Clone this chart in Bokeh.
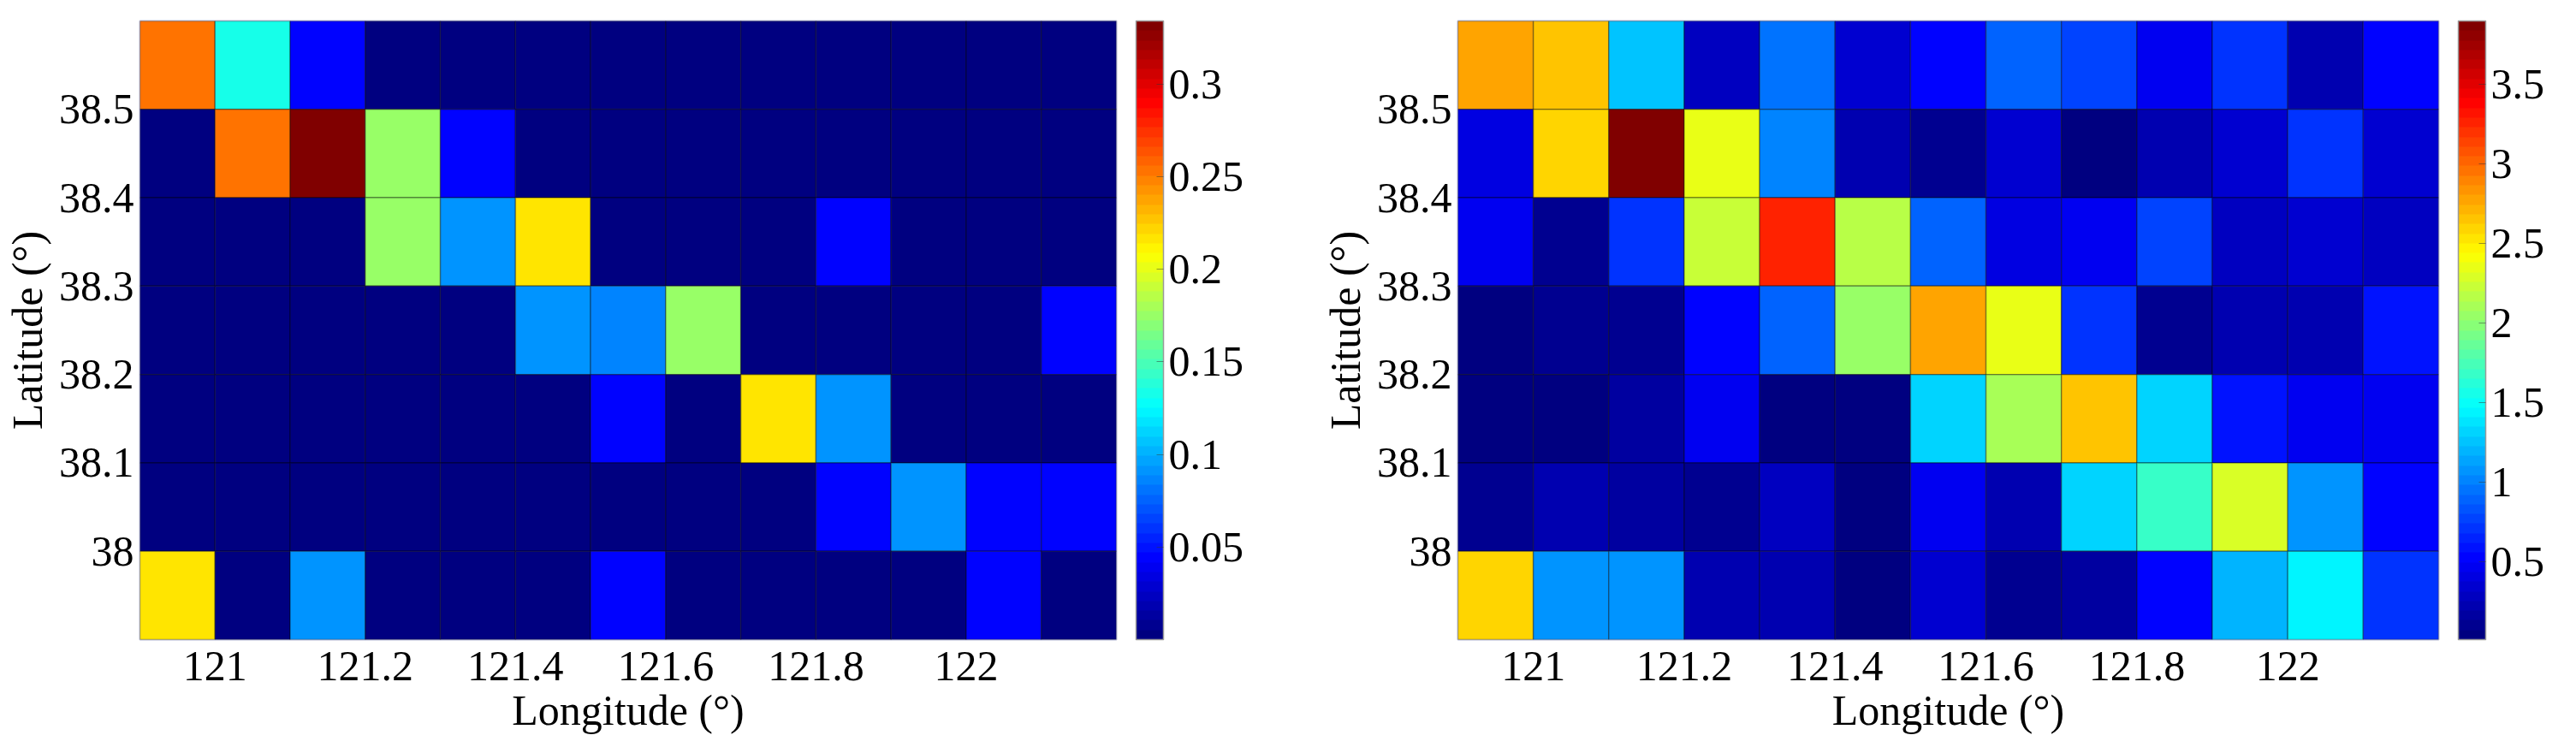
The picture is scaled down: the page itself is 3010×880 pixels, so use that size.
from bokeh.plotting import figure
from bokeh.models import (LinearColorMapper, ColorBar, FixedTicker, Range1d,
                          ColumnDataSource)
from bokeh.layouts import row
from bokeh.embed import file_html
from bokeh.resources import INLINE

# ---------------- data ----------------
lon_centers = [120.95, 121.05, 121.15, 121.25, 121.35, 121.45, 121.55,
               121.65, 121.75, 121.85, 121.95, 122.05, 122.15]
lat_centers = [38.55, 38.45, 38.35, 38.25, 38.15, 38.05, 37.95]  # top -> bottom

x_ticks = [121.0, 121.2, 121.4, 121.6, 121.8, 122.0]
x_tick_labels = ["121", "121.2", "121.4", "121.6", "121.8", "122"]
y_ticks = [38.0, 38.1, 38.2, 38.3, 38.4, 38.5]
y_tick_labels = ["38", "38.1", "38.2", "38.3", "38.4", "38.5"]

left_cb_ticks = [0.05, 0.1, 0.15, 0.2, 0.25, 0.3]
left_cb_labels = ["0.05", "0.1", "0.15", "0.2", "0.25", "0.3"]
right_cb_ticks = [0.5, 1.0, 1.5, 2.0, 2.5, 3.0, 3.5]
right_cb_labels = ["0.5", "1", "1.5", "2", "2.5", "3", "3.5"]

left_low, left_high = 0.0, 0.334
right_low, right_high = 0.01, 3.9

# rows from top (38.55) to bottom (37.95), columns west -> east
left_grid = [
    [0.252, 0.134, 0.045, 0.004, 0.004, 0.004, 0.004, 0.004, 0.004, 0.004, 0.004, 0.004, 0.004],
    [0.004, 0.252, 0.334, 0.175, 0.045, 0.004, 0.004, 0.004, 0.004, 0.004, 0.004, 0.004, 0.004],
    [0.004, 0.004, 0.004, 0.175, 0.091, 0.214, 0.004, 0.004, 0.004, 0.045, 0.004, 0.004, 0.004],
    [0.004, 0.004, 0.004, 0.004, 0.004, 0.091, 0.088, 0.175, 0.004, 0.004, 0.004, 0.004, 0.045],
    [0.004, 0.004, 0.004, 0.004, 0.004, 0.004, 0.045, 0.004, 0.214, 0.091, 0.004, 0.004, 0.004],
    [0.004, 0.004, 0.004, 0.004, 0.004, 0.004, 0.004, 0.004, 0.004, 0.045, 0.091, 0.045, 0.045],
    [0.214, 0.004, 0.091, 0.004, 0.004, 0.004, 0.045, 0.004, 0.004, 0.004, 0.004, 0.045, 0.004],
]

right_grid = [
    [2.76, 2.64, 1.23, 0.28, 0.95, 0.36, 0.50, 0.91, 0.76, 0.48, 0.70, 0.25, 0.50],
    [0.40, 2.60, 3.90, 2.38, 0.99, 0.20, 0.13, 0.36, 0.05, 0.25, 0.35, 0.69, 0.35],
    [0.44, 0.13, 0.69, 2.23, 3.26, 2.15, 0.88, 0.40, 0.44, 0.79, 0.28, 0.36, 0.28],
    [0.05, 0.10, 0.13, 0.52, 0.88, 2.05, 2.76, 2.38, 0.69, 0.13, 0.20, 0.24, 0.60],
    [0.03, 0.05, 0.16, 0.48, 0.03, 0.05, 1.33, 2.10, 2.64, 1.33, 0.60, 0.48, 0.44],
    [0.13, 0.20, 0.16, 0.13, 0.28, 0.03, 0.44, 0.20, 1.33, 1.70, 2.27, 1.06, 0.55],
    [2.57, 1.10, 1.10, 0.20, 0.20, 0.05, 0.36, 0.13, 0.16, 0.50, 1.18, 1.41, 0.72],
]

# ---------------- jet colormap (64 levels) ----------------
def _clip(v):
    return max(0.0, min(1.0, v))

JET = []
for i in range(64):
    t = i / 63.0
    r = _clip(1.5 - abs(4 * t - 3))
    g = _clip(1.5 - abs(4 * t - 2))
    b = _clip(1.5 - abs(4 * t - 1))
    JET.append("#%02x%02x%02x" % (int(round(r * 255)), int(round(g * 255)), int(round(b * 255))))

FONT = "Liberation Serif"
FS = "50px"


def make_panel(grid, low, high, cb_ticks, cb_labels, width,
               border_left, border_right, border_top):
    xs, ys, vs = [], [], []
    for r, lat in enumerate(lat_centers):
        for c, lon in enumerate(lon_centers):
            xs.append(lon)
            ys.append(lat)
            vs.append(grid[r][c])
    src = ColumnDataSource(dict(x=xs, y=ys, v=vs))
    mapper = LinearColorMapper(palette=JET, low=low, high=high)

    p = figure(width=width, height=860,
               x_range=Range1d(120.9, 122.2), y_range=Range1d(37.9, 38.6),
               output_backend="svg", toolbar_location=None,
               min_border_left=border_left, min_border_top=border_top,
               min_border_bottom=111, min_border_right=border_right)
    p.rect(x="x", y="y", width=0.1, height=0.1, source=src,
           fill_color={"field": "v", "transform": mapper},
           line_color="black", line_alpha=0.35, line_width=1.5)

    p.grid.visible = False
    p.outline_line_color = "#b8bcd8"
    p.outline_line_width = 2

    p.xaxis.ticker = FixedTicker(ticks=x_ticks)
    p.xaxis.major_label_overrides = dict(zip(x_ticks, x_tick_labels))
    p.yaxis.ticker = FixedTicker(ticks=y_ticks)
    p.yaxis.major_label_overrides = dict(zip(y_ticks, y_tick_labels))
    p.xaxis.axis_label = "Longitude (°)"
    p.yaxis.axis_label = "Latitude (°)"
    for ax in (p.xaxis[0], p.yaxis[0]):
        ax.axis_line_color = None
        ax.major_tick_line_color = None
        ax.minor_tick_line_color = None
        ax.major_tick_in = 0
        ax.major_tick_out = 0
        ax.minor_tick_in = 0
        ax.minor_tick_out = 0
        ax.major_label_text_font = FONT
        ax.major_label_text_font_size = FS
        ax.major_label_text_color = "black"
        ax.axis_label_text_font = FONT
        ax.axis_label_text_font_size = FS
        ax.axis_label_text_font_style = "normal"
        ax.axis_label_text_color = "black"
    p.xaxis.major_label_standoff = 14
    p.yaxis.major_label_standoff = 7
    p.xaxis.axis_label_standoff = 4
    p.yaxis.axis_label_standoff = 6

    cb = ColorBar(color_mapper=mapper, ticker=FixedTicker(ticks=cb_ticks),
                  major_label_overrides=dict(zip(cb_ticks, cb_labels)),
                  width=32, padding=0, margin=0, label_standoff=6,
                  major_label_text_font=FONT, major_label_text_font_size=FS,
                  major_label_text_color="black",
                  bar_line_color="#9a9a9a", bar_line_width=1.5,
                  major_tick_line_color="#333333", major_tick_line_alpha=0.5,
                  major_tick_in=8, major_tick_out=0,
                  minor_tick_line_color=None, border_line_color=None,
                  location=(23, 0))
    p.add_layout(cb, "right")
    return p


p1 = make_panel(left_grid, left_low, left_high, left_cb_ticks, left_cb_labels,
                width=1500, border_left=159, border_right=196, border_top=22)
p2 = make_panel(right_grid, right_low, right_high, right_cb_ticks, right_cb_labels,
                width=1494, border_left=203, border_right=145, border_top=24)

layout = row(p1, p2)
open("out.html", "w").write(file_html(layout, INLINE))
